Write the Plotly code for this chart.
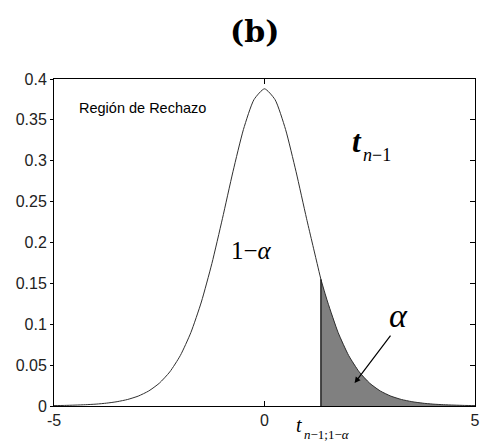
import plotly.graph_objects as go

# Density of the t distribution
t_values = [-5.0, -4.75, -4.5, -4.25, -4.0, -3.75, -3.5, -3.25, -3.0, -2.75,
            -2.5, -2.25, -2.0, -1.75, -1.5, -1.25, -1.0, -0.75, -0.5, -0.25,
            0.0, 0.25, 0.5, 0.75, 1.0, 1.25, 1.34, 1.5, 1.75, 2.0, 2.25, 2.5,
            2.75, 3.0, 3.25, 3.5, 3.75, 4.0, 4.25, 4.5, 4.75, 5.0]
density = [0.0005, 0.0007, 0.0011, 0.0016, 0.0023, 0.0035, 0.0053, 0.0080, 0.0121, 0.0184,
           0.0278, 0.0417, 0.0617, 0.0897, 0.1272, 0.1743, 0.2291, 0.2865, 0.3383, 0.3748,
           0.3880, 0.3748, 0.3383, 0.2865, 0.2291, 0.1743, 0.1550, 0.1272, 0.0897, 0.0617, 0.0417, 0.0278,
           0.0184, 0.0121, 0.0080, 0.0053, 0.0035, 0.0023, 0.0016, 0.0011, 0.0007, 0.0005]
critical_t = 1.34
critical_density = 0.1550

x_tick_vals = [-5, 0, 5]
x_tick_text = ["-5", "0", "5"]
y_tick_vals = [0, 0.05, 0.1, 0.15, 0.2, 0.25, 0.3, 0.35, 0.4]
y_tick_text = ["0", "0.05", "0.1", "0.15", "0.2", "0.25", "0.3", "0.35", "0.4"]

tail_x = [t for t in t_values if t >= critical_t]
tail_y = [d for t, d in zip(t_values, density) if t >= critical_t]

fig = go.Figure()

# shaded rejection region
fig.add_trace(go.Scatter(
    x=[critical_t] + tail_x + [tail_x[-1]],
    y=[0] + tail_y + [0],
    fill="toself", fillcolor="#808080",
    line=dict(color="rgba(0,0,0,0)", width=0),
    mode="lines", hoverinfo="skip", showlegend=False))

# density curve
fig.add_trace(go.Scatter(
    x=t_values, y=density, mode="lines",
    line=dict(color="#303030", width=1, shape="spline", smoothing=0.6),
    showlegend=False))

# critical line
fig.add_trace(go.Scatter(
    x=[critical_t, critical_t], y=[0, critical_density], mode="lines",
    line=dict(color="#000000", width=1.2), showlegend=False))

# invisible trace to carry right-side ticks
fig.add_trace(go.Scatter(x=[critical_t], y=[0], yaxis="y2", mode="markers",
                         marker=dict(opacity=0), showlegend=False, hoverinfo="skip"))

tick_font = dict(family="Liberation Sans, Arial, sans-serif", size=16, color="#222222")
serif = "Liberation Serif, Times New Roman, serif"

fig.update_layout(
    width=492, height=441,
    margin=dict(l=54, r=12, t=79, b=27),
    paper_bgcolor="white", plot_bgcolor="white",
    xaxis=dict(range=[-5, 5], tickvals=x_tick_vals, ticktext=x_tick_text,
               ticks="inside", ticklen=5, tickcolor="#000", showgrid=False, zeroline=False,
               showline=True, linecolor="#000", linewidth=1, mirror="ticks",
               tickfont=tick_font),
    yaxis=dict(range=[0, 0.4], tickvals=y_tick_vals, ticktext=y_tick_text,
               ticks="outside", ticklen=3, tickcolor="#000", showgrid=False, zeroline=False,
               showline=True, linecolor="#000", linewidth=1, mirror=True,
               tickfont=tick_font),
    yaxis2=dict(range=[0, 0.4], tickvals=y_tick_vals, showticklabels=False,
                ticks="inside", ticklen=5, tickcolor="#000", showgrid=False, zeroline=False,
                showline=False, overlaying="y", side="right"),
    annotations=[
        dict(text="<b>(b)</b>", xref="paper", yref="paper", x=(257 - 54) / 426, y=1.0,
             yanchor="middle", yshift=48, showarrow=False,
             font=dict(family="DejaVu Serif, serif", size=30, color="#000")),
        dict(text="Región de Rechazo", xref="x", yref="y", x=-4.46, y=0.365, xanchor="left",
             showarrow=False, font=dict(family="Liberation Sans, Arial, sans-serif", size=14.5, color="#000")),
        dict(text="<i><b>t</b></i>", xref="x", yref="y", x=2.195, y=0.3236,
             showarrow=False, font=dict(family=serif, size=31, color="#000")),
        dict(text="<i>n</i>−1", xref="x", yref="y", x=2.676, y=0.307,
             showarrow=False, font=dict(family=serif, size=18, color="#000")),
        dict(text="1−<i>α</i>", xref="x", yref="y", x=-0.305, y=0.19,
             showarrow=False, font=dict(family=serif, size=25, color="#000")),
        dict(text="<i>α</i>", xref="x", yref="y", x=3.19, y=0.111,
             showarrow=False, font=dict(family=serif, size=34, color="#000")),
        dict(text="", x=2.14, y=0.028, xref="x", yref="y",
             ax=3.02, ay=0.088, axref="x", ayref="y",
             showarrow=True, arrowhead=2, arrowsize=1, arrowwidth=1.2, arrowcolor="#000"),
        dict(text="<i>t</i>", xref="x", yref="paper", x=0.82, y=0, yanchor="middle",
             yshift=-19, showarrow=False,
             font=dict(family=serif, size=20, color="#000")),
        dict(text="<i>n</i>−1;1−<i>α</i>", xref="x", yref="paper", x=0.892, y=0,
             xanchor="left", yanchor="middle", yshift=-28, showarrow=False,
             font=dict(family=serif, size=13, color="#000")),
    ],
)

fig.write_html("out.html", config={"displayModeBar": False},
               post_script="document.body.style.margin='0';")
